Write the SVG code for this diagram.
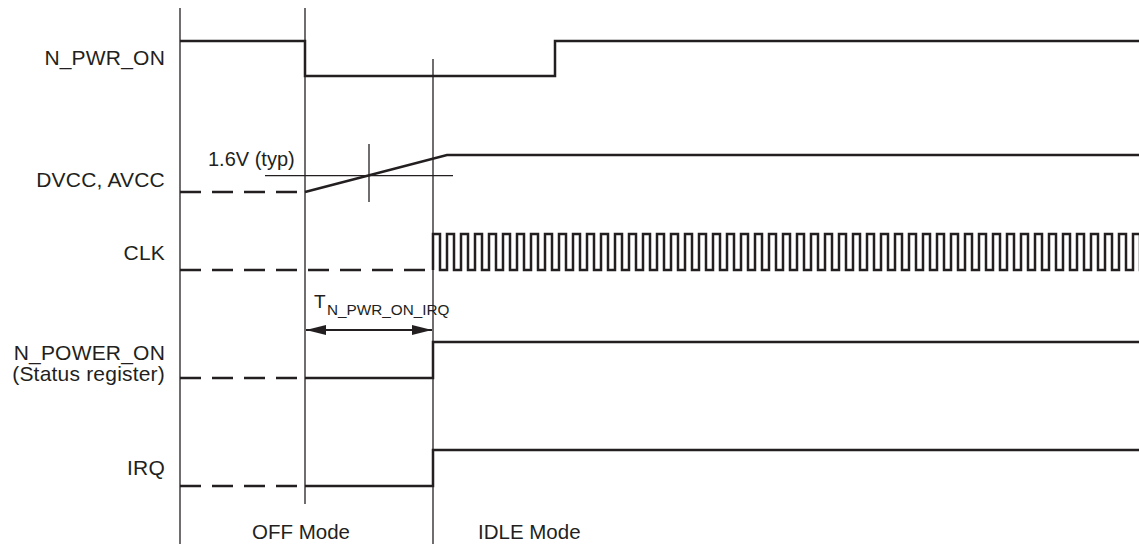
<svg xmlns="http://www.w3.org/2000/svg" width="1139" height="544" viewBox="0 0 1139 544">
<style>
text{font-family:"Liberation Sans",Arial,sans-serif;fill:#231f20}
.lbl{font-size:21px;text-anchor:end;letter-spacing:0.2px}
.guide{stroke:#231f20;stroke-width:1.3;fill:none}
.sig{stroke:#231f20;stroke-width:2.5;fill:none}
.dash{stroke:#231f20;stroke-width:2.5;fill:none;stroke-dasharray:21 11}
</style>
<defs>
<marker id="ah" viewBox="0 0 20 10" refX="20" refY="5" markerWidth="20" markerHeight="10" markerUnits="userSpaceOnUse" orient="auto-start-reverse">
<path d="M0,0 L20,5 L0,10 Z" fill="#231f20"/>
</marker>
</defs>
<rect width="1139" height="544" fill="#fff"/>
<g id="labels">
<text class="lbl" x="165" y="65">N_PWR_ON</text>
<text class="lbl" x="165" y="187">DVCC, AVCC</text>
<text class="lbl" x="165" y="260">CLK</text>
<text class="lbl" x="165" y="360">N_POWER_ON</text>
<text class="lbl" x="165" y="381">(Status register)</text>
<text class="lbl" x="165" y="475">IRQ</text>
<text x="301" y="539" font-size="20.5" text-anchor="middle">OFF Mode</text>
<text x="478" y="539" font-size="20.5">IDLE Mode</text>
<text x="208" y="166" font-size="20">1.6V (typ)</text>
<text x="314" y="308" font-size="19">T<tspan x="327" y="315" font-size="15.3">N_PWR_ON_IRQ</tspan></text>
</g>
<g id="guides">
<line class="guide" x1="180" y1="8" x2="180" y2="544"/>
<line class="guide" x1="305" y1="8" x2="305" y2="504"/>
<line class="guide" x1="433" y1="59" x2="433" y2="544"/>
<line class="guide" x1="265" y1="175.7" x2="453" y2="175.7"/>
<line class="guide" x1="369" y1="144" x2="369" y2="202"/>
</g>
<g id="n_pwr_on">
<polyline class="sig" points="180,41 305,41 305,76 555,76 555,41 1139,41"/>
</g>
<g id="dvcc">
<line class="dash" x1="180" y1="192" x2="305" y2="192"/>
<polyline class="sig" points="305,192 447,155 1139,155"/>
</g>
<g id="clk">
<line class="dash" x1="180" y1="270" x2="433" y2="270"/>
<path class="sig" stroke-width="2.2" d="M433,270 V234 h7v36h7v-36h7v36h7v-36h7v36h7v-36h7v36h7v-36h7v36h7v-36h7v36h7v-36h7v36h7v-36h7v36h7v-36h7v36h7v-36h7v36h7v-36 h7v36h7v-36h7v36h7v-36h7v36h7v-36h7v36h7v-36h7v36h7v-36h7v36h7v-36h7v36h7v-36h7v36h7v-36h7v36h7v-36h7v36h7v-36 h7v36h7v-36h7v36h7v-36h7v36h7v-36h7v36h7v-36h7v36h7v-36h7v36h7v-36h7v36h7v-36h7v36h7v-36h7v36h7v-36h7v36h7v-36 h7v36h7v-36h7v36h7v-36h7v36h7v-36h7v36h7v-36h7v36h7v-36h7v36h7v-36h7v36h7v-36h7v36h7v-36h7v36h7v-36h7v36h7v-36 h7v36h7v-36h7v36h7v-36h7v36h7v-36h7v36h7v-36h7v36h7v-36h7v36h7v-36h7v36h7v-36h7v36h7v-36h7v36h7v-36h7v36h7v-36 h7v36h7v-36"/>
</g>
<g id="connectors">
<line stroke="#231f20" stroke-width="2.2" x1="306" y1="330" x2="432" y2="330" marker-start="url(#ah)" marker-end="url(#ah)"/>
</g>
<g id="n_power_on">
<line class="dash" x1="180" y1="378" x2="305" y2="378"/>
<polyline class="sig" points="305,378 433,378 433,342 1139,342"/>
</g>
<g id="irq">
<line class="dash" x1="180" y1="486" x2="305" y2="486"/>
<polyline class="sig" points="305,486 433,486 433,450 1139,450"/>
</g>
</svg>
